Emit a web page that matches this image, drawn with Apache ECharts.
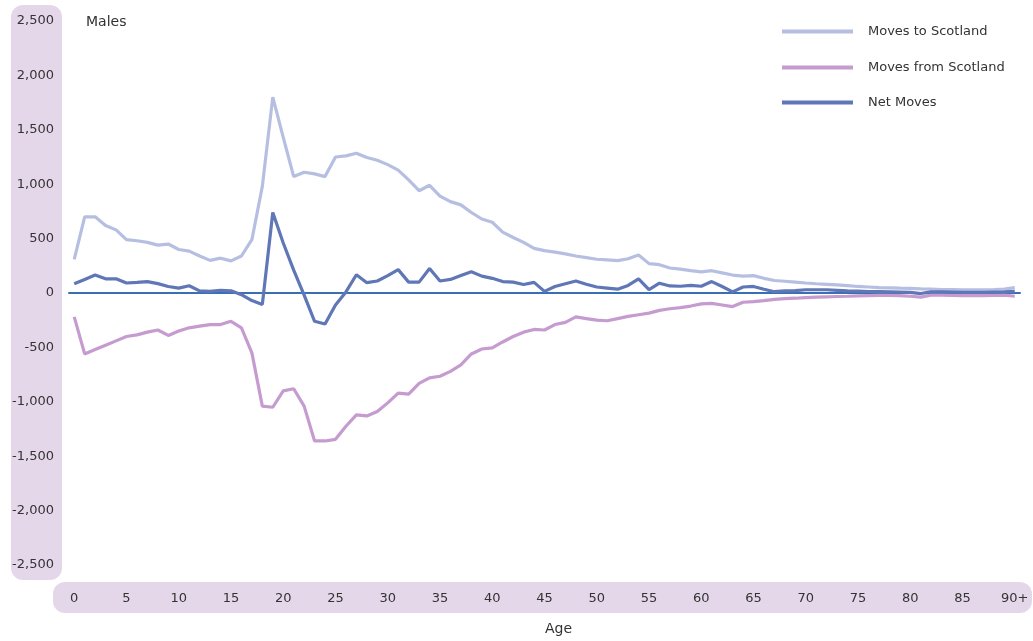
<!DOCTYPE html>
<html>
<head>
<meta charset="utf-8">
<script src="https://cdn.jsdelivr.net/npm/echarts@6/dist/echarts.min.js"></script>
<style>
html,body{margin:0;padding:0;background:#fff;}
#chart{width:1033px;height:641px;}
</style>
</head>
<body>
<div id="chart"></div>
<script>
var ages = [];
for (var i = 0; i <= 89; i++) ages.push(String(i));
ages.push('90+');

var yTicks = [-2500, -2000, -1500, -1000, -500, 0, 500, 1000, 1500, 2000, 2500];

var movesTo = [310,700,700,620,580,490,480,465,440,450,
  400,385,340,300,320,295,340,490,980,1800,
  1430,1070,1110,1095,1070,1250,1260,1285,1245,1220,
  1180,1130,1040,940,990,890,840,810,740,680,
  650,560,510,465,410,390,375,360,340,325,
  310,305,297,315,350,270,260,230,220,205,
  195,205,185,165,155,160,135,115,108,100,
  92,85,80,75,68,60,55,50,47,44,
  42,38,35,32,31,30,30,30,32,35,50];

var movesFrom = [-220,-560,-520,-480,-440,-400,-385,-360,-340,-390,
  -350,-320,-305,-290,-290,-260,-320,-550,-1040,-1050,
  -900,-880,-1040,-1360,-1360,-1345,-1225,-1120,-1130,-1090,
  -1010,-920,-930,-830,-780,-765,-720,-660,-560,-515,
  -505,-450,-400,-360,-335,-340,-290,-270,-220,-235,
  -250,-255,-235,-215,-200,-185,-160,-145,-135,-120,
  -100,-95,-110,-125,-85,-80,-70,-58,-52,-48,
  -42,-38,-35,-32,-30,-27,-24,-22,-22,-24,
  -30,-38,-20,-20,-22,-24,-25,-24,-22,-20,-30];

var netMoves = [85,125,165,130,130,92,98,105,86,60,
  45,67,20,15,25,20,-15,-70,-105,740,
  460,210,-20,-260,-285,-110,10,168,95,110,
  160,215,100,100,225,110,125,160,195,155,
  135,105,100,78,98,15,60,85,110,80,
  55,45,35,70,130,31,90,65,62,70,
  62,105,60,10,55,60,35,12,20,22,
  30,30,30,25,20,18,14,12,10,8,
  6,-5,10,10,8,6,5,5,8,10,15];

var cTo = '#b6bfe1', cFrom = '#c59bd0', cNet = '#5f76b7', cBand = '#e5d7ea';
var FONT = 'DejaVu Sans, Liberation Sans, Arial, sans-serif';

var chart = echarts.init(document.getElementById('chart'));
function fmt(v){
  var s = Math.abs(v).toString().replace(/\B(?=(\d{3})+(?!\d))/g, ',');
  return (v < 0 ? '-' : '') + s;
}
var legendBase = {
  orient: 'horizontal', left: 777, itemWidth: 71, itemHeight: 4, icon: 'rect',
  textStyle: {fontFamily: FONT, fontSize: 13, color: '#333', padding: [0,0,0,10]},
  selectedMode: false
};
chart.setOption({
  animation: false,
  backgroundColor: '#fff',
  graphic: [
    {type: 'rect', z: -10, shape: {x: 11, y: 5, width: 51, height: 575, r: 12}, style: {fill: cBand}},
    {type: 'rect', z: -10, shape: {x: 53, y: 582, width: 979, height: 31, r: 12}, style: {fill: cBand}},
    {type: 'text', left: 86, top: 15, style: {text: 'Males', fontFamily: FONT, fontSize: 14, fill: '#333'}},
    {type: 'text', left: 545, top: 622, style: {text: 'Age', fontFamily: FONT, fontSize: 14, fill: '#333'}}
  ],
  legend: [
    Object.assign({}, legendBase, {top: 20, data: ['Moves to Scotland']}),
    Object.assign({}, legendBase, {top: 56, data: ['Moves from Scotland']}),
    Object.assign({}, legendBase, {top: 91, data: ['Net Moves']})
  ],
  grid: {left: 69, right: 13, top: 21, height: 544},
  xAxis: {
    type: 'category', data: ages, boundaryGap: true,
    axisLine: {onZero: true, lineStyle: {color: '#3a6fb4', width: 2}},
    axisTick: {show: false},
    axisLabel: {
      interval: 4, margin: 27, fontFamily: FONT, fontSize: 13, color: '#333',
      showMaxLabel: true
    },
    splitLine: {show: false}
  },
  yAxis: {
    type: 'value', min: -2500, max: 2500, interval: 500,
    axisLine: {show: false}, axisTick: {show: false}, splitLine: {show: false},
    axisLabel: {formatter: fmt, margin: 15, fontFamily: FONT, fontSize: 13, color: '#333'}
  },
  series: [
    {name: 'Moves to Scotland', type: 'line', data: movesTo, showSymbol: false, symbol: 'none',
     lineStyle: {color: cTo, width: 3.2}, itemStyle: {color: cTo}},
    {name: 'Moves from Scotland', type: 'line', data: movesFrom, showSymbol: false, symbol: 'none',
     lineStyle: {color: cFrom, width: 3.2}, itemStyle: {color: cFrom}},
    {name: 'Net Moves', type: 'line', data: netMoves, showSymbol: false, symbol: 'none',
     lineStyle: {color: cNet, width: 3.2}, itemStyle: {color: cNet}}
  ]
});
</script>
</body>
</html>
